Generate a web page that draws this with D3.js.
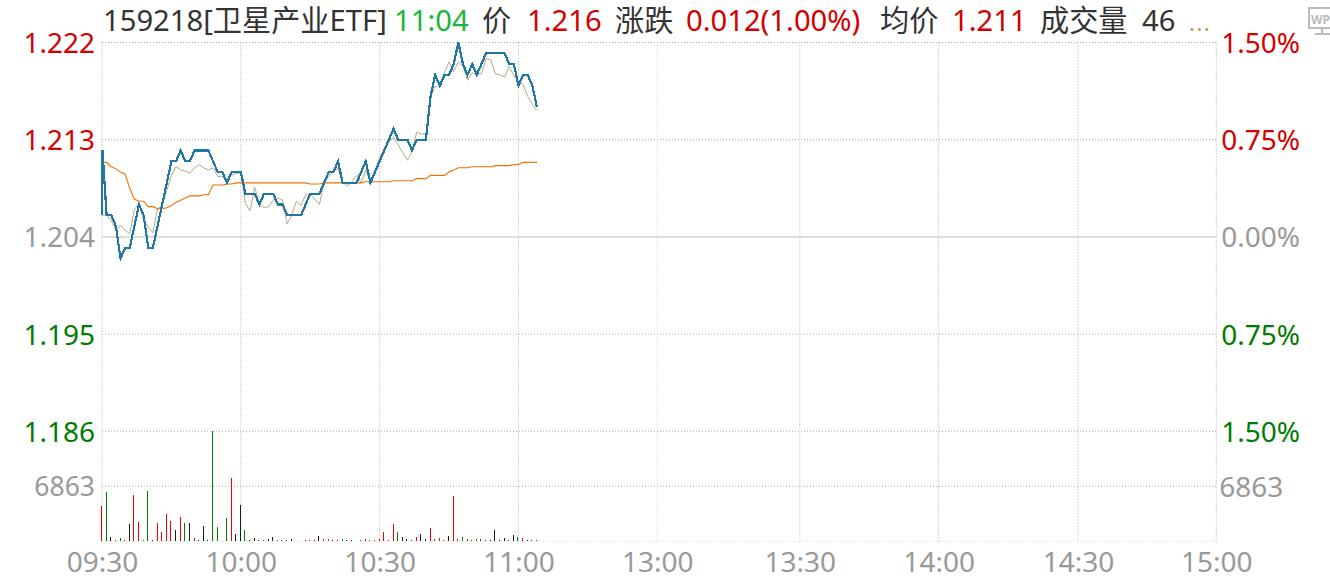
<!DOCTYPE html>
<html><head><meta charset="utf-8">
<script src="https://cdn.jsdelivr.net/npm/d3@7/dist/d3.min.js"></script>
<style>
html,body{margin:0;padding:0;background:#fff;overflow:hidden}
svg{display:block}
text{font-family:"Noto Sans","Noto Sans CJK SC",sans-serif}
</style></head><body>
<svg id="c" width="1330" height="582"></svg>
<script>
const preClose = 1.204;
const openPrice = 1.206;
const priceTicks = [1.222, 1.213, 1.204, 1.195, 1.186];
const pctLabels = ["1.50%", "0.75%", "0.00%", "0.75%", "1.50%"];
const volumeTick = 6863;
const volumeMax = 13726;
const timeLabels = ["09:30","10:00","10:30","11:00","13:00","13:30","14:00","14:30","15:00"];
const timeSlots = [0, 30, 60, 90, 120, 150.8, 180.8, 210.9, 240.8];
const price = [
1.212,1.206,1.206,1.205,1.202,1.203,1.203,1.205,1.207,1.206,
1.203,1.203,1.205,1.207,1.209,1.211,1.211,1.212,1.211,1.211,
1.212,1.212,1.212,1.212,1.211,1.210,1.210,1.209,1.210,1.210,
1.210,1.208,1.208,1.208,1.207,1.208,1.208,1.208,1.207,1.207,
1.206,1.206,1.206,1.206,1.207,1.208,1.208,1.208,1.209,1.210,
1.210,1.211,1.209,1.209,1.209,1.209,1.210,1.211,1.209,1.210,
1.211,1.212,1.213,1.214,1.213,1.213,1.213,1.212,1.213,1.213,
1.213,1.217,1.219,1.218,1.219,1.219,1.220,1.222,1.220,1.219,
1.220,1.219,1.220,1.221,1.221,1.221,1.221,1.221,1.220,1.220,
1.218,1.219,1.219,1.218,1.216];
const tracker = [
1.2060,1.2060,1.2055,1.2046,1.2051,1.2046,1.2043,1.2065,1.2072,1.2055,
1.2049,1.2044,1.2066,1.2069,1.2083,1.2097,1.2105,1.2102,1.2101,1.2099,
1.2104,1.2107,1.2104,1.2102,1.2104,1.2096,1.2096,1.2094,1.2097,1.2099,
1.2099,1.2071,1.2064,1.2086,1.2071,1.2067,1.2068,1.2074,1.2076,1.2074,
1.2052,1.2060,1.2073,1.2069,1.2079,1.2079,1.2075,1.2070,1.2091,1.2096,
1.2101,1.2103,1.2091,1.2087,1.2091,1.2097,1.2090,1.2102,1.2091,1.2102,
1.2113,1.2122,1.2128,1.2132,1.2125,1.2118,1.2111,1.2119,1.2137,1.2135,
1.2136,1.2170,1.2179,1.2180,1.2192,1.2202,1.2193,1.2202,1.2198,1.2185,
1.2192,1.2191,1.2191,1.2205,1.2204,1.2191,1.2190,1.2188,1.2198,1.2189,
1.2184,1.2181,1.2170,1.2163,1.2157];
const average = [
1.2109,1.2109,1.2105,1.2103,1.2100,1.2098,1.2085,1.2075,1.2073,1.2073,
1.2068,1.2068,1.2066,1.2066,1.2067,1.2069,1.2072,1.2074,1.2076,1.2078,
1.2078,1.2078,1.2079,1.2079,1.2088,1.2088,1.2088,1.2089,1.2089,1.2090,
1.2090,1.2090,1.2090,1.2090,1.2090,1.2090,1.2090,1.2090,1.2090,1.2090,
1.2090,1.2090,1.2090,1.2090,1.2090,1.2089,1.2089,1.2089,1.2090,1.2090,
1.2090,1.2090,1.2090,1.2090,1.2090,1.2090,1.2090,1.2091,1.2091,1.2091,
1.2091,1.2091,1.2091,1.2092,1.2092,1.2092,1.2092,1.2092,1.2094,1.2094,
1.2094,1.2097,1.2097,1.2097,1.2097,1.2100,1.2102,1.2104,1.2104,1.2104,
1.2105,1.2105,1.2105,1.2105,1.2105,1.2106,1.2106,1.2106,1.2106,1.2107,
1.2107,1.2109,1.2109,1.2109,1.2109];
const volume = [
4380,6130,500,125,375,125,2127,5755,2377,125,
6255,125,2252,1126,3378,2502,1376,3002,2252,2252,
375,125,1877,125,13726,1751,40,2877,7881,876,
4545,1376,125,375,125,125,250,500,125,125,
125,250,40,40,125,125,125,625,250,250,
125,125,250,125,125,40,125,250,125,125,
250,1126,125,2127,1126,500,250,125,500,876,
250,1626,250,375,125,625,5630,250,500,250,
125,250,250,125,125,1376,125,375,125,750,
500,375,125,125,125];
const barDir = [
1,-1,0,-1,-1,1,0,1,1,-1,
-1,0,1,1,1,1,0,1,-1,0,
1,0,0,0,-1,-1,0,-1,1,0,
0,-1,0,0,-1,1,0,0,-1,0,
-1,0,0,0,1,1,0,0,1,1,
0,1,-1,0,0,0,1,1,-1,1,
1,1,1,1,-1,0,0,-1,1,0,
0,1,1,-1,1,0,1,1,-1,-1,
1,-1,1,1,0,0,0,0,-1,0,
-1,1,0,-1,-1];
const header = [
  ["159218[卫星产业ETF]", 103, "#333"],
  ["11:04", 394, "#1cb53c"],
  ["价", 482, "#333"],
  ["1.216", 527, "#d40000"],
  ["涨跌", 615, "#333"],
  ["0.012(1.00%)", 686, "#d40000"],
  ["均价", 880, "#333"],
  ["1.211", 952, "#d40000"],
  ["成交量", 1040, "#333"],
  ["46", 1142, "#333"]
];

const RED = "#d40000", GREEN = "#007c00", GRAY = "#999";
const svg = d3.select("#c");
const L = 102, R = 1216.3;
const x = d3.scaleLinear().domain([0, 240.8]).range([L, R]);
const yP = d3.scaleLinear().domain([1.186, 1.222]).range([431.3, 42.5]);
const yV = d3.scaleLinear().domain([0, volumeMax]).range([541.3, 431.3]);
const priceColor = v => v > preClose ? RED : v < preClose ? GREEN : GRAY;
const FS = 28;

const grid = svg.append("g");
const dots = "1 2";
priceTicks.forEach(v => {
  if (v === preClose) return;
  grid.append("line").attr("x1", L).attr("x2", R).attr("y1", yP(v)).attr("y2", yP(v))
    .attr("stroke", "#aaa").attr("stroke-dasharray", dots);
});
grid.append("line").attr("x1", L).attr("x2", R).attr("y1", yV(volumeTick)).attr("y2", yV(volumeTick))
  .attr("stroke", "#aaa").attr("stroke-dasharray", dots);
grid.append("line").attr("x1", L).attr("x2", R).attr("y1", yV(0)).attr("y2", yV(0))
  .attr("stroke", "#ddd").attr("stroke-dasharray", dots);
timeSlots.forEach((s, i) => {
  grid.append("line").attr("x1", x(s)).attr("x2", x(s)).attr("y1", yP(1.222)).attr("y2", yV(0))
    .attr("stroke", i === 4 ? "#ddd" : "#aaa").attr("stroke-width", i === 4 ? 1.5 : 1)
    .attr("stroke-dasharray", dots);
});
grid.append("line").attr("x1", L).attr("x2", R).attr("y1", yP(preClose)).attr("y2", yP(preClose))
  .attr("stroke", "#dcdcdc").attr("stroke-width", 2);

const gl = svg.append("g").attr("transform", `translate(${L},0)`)
  .call(d3.axisLeft(yP).tickValues(priceTicks).tickSize(0).tickPadding(7).tickFormat(d3.format(".3f")));
gl.selectAll("text").attr("font-size", FS).attr("dy", "0.36em").attr("fill", d => priceColor(d));
const gr = svg.append("g").attr("transform", `translate(${R},0)`)
  .call(d3.axisRight(yP).tickValues(priceTicks).tickSize(0).tickPadding(5).tickFormat((d, i) => pctLabels[i]));
gr.selectAll("text").attr("font-size", FS).attr("dy", "0.36em").attr("fill", d => priceColor(d));
const gvl = svg.append("g").attr("transform", `translate(${L},0)`)
  .call(d3.axisLeft(yV).tickValues([volumeTick]).tickSize(0).tickPadding(7).tickFormat(d3.format("d")));
gvl.selectAll("text").attr("font-size", 26.5).attr("dy", "0.36em").attr("fill", GRAY);
const gvr = svg.append("g").attr("transform", `translate(${R},0)`)
  .call(d3.axisRight(yV).tickValues([volumeTick]).tickSize(0).tickPadding(3).tickFormat(d3.format("d")));
gvr.selectAll("text").attr("font-size", FS).attr("dy", "0.36em").attr("fill", GRAY);
const gx = svg.append("g").attr("transform", `translate(0,${yV(0)})`)
  .call(d3.axisBottom(x).tickValues(timeSlots).tickSize(0).tickPadding(10.8).tickFormat((d, i) => timeLabels[i]));
gx.selectAll("text").attr("font-size", FS).attr("fill", GRAY);
svg.selectAll(".domain").remove();

const dirColor = d => d > 0 ? "#f00000" : d < 0 ? "#008000" : "#1a1a1a";
svg.append("g").attr("shape-rendering", "crispEdges").selectAll("rect").data(volume).join("rect")
  .attr("x", (d, i) => Math.floor(x(i) - 0.5)).attr("width", 1)
  .attr("y", d => yV(d)).attr("height", d => yV(0) - yV(d))
  .attr("fill", (d, i) => dirColor(barDir[i]));

const lineOf = d3.line().x((d, i) => x(i)).y(d => yP(d));
svg.append("path").attr("d", lineOf(tracker)).attr("fill", "none").attr("stroke", "#b8a888").attr("stroke-width", 1);
svg.append("path").attr("d", lineOf(average)).attr("fill", "none").attr("stroke", "#f07000").attr("stroke-width", 1.1);
const priceLine = d3.line().x(d => x(d[0])).y(d => yP(d[1]));
svg.append("path")
  .attr("d", priceLine([[0, openPrice], [0.1, price[0]]].concat(price.slice(1).map((v, i) => [i + 1, v]))))
  .attr("fill", "none").attr("stroke", "#1f78a4").attr("stroke-width", 2.2).attr("shape-rendering", "crispEdges");

const h = svg.append("g");
h.selectAll("text").data(header).join("text")
  .attr("x", d => d[1]).attr("y", 31).attr("font-size", 29.2).attr("fill", d => d[2]).text(d => d[0]);
h.append("text").attr("x", 1189).attr("y", 31).attr("font-size", 22).attr("letter-spacing", 1.5)
  .attr("fill", "#b8a070").text("...");

const ic = svg.append("g");
ic.append("rect").attr("x", 1309).attr("y", 8).attr("width", 30).attr("height", 20)
  .attr("fill", "none").attr("stroke", "#bbb").attr("stroke-width", 2);
ic.append("text").attr("x", 1311).attr("y", 24).attr("font-size", 12).attr("font-weight", 700)
  .attr("fill", "#bbb").text("WP");
ic.append("line").attr("x1", 1322).attr("x2", 1322).attr("y1", 28).attr("y2", 33).attr("stroke", "#bbb").attr("stroke-width", 2);
ic.append("line").attr("x1", 1315).attr("x2", 1330).attr("y1", 34).attr("y2", 34).attr("stroke", "#bbb").attr("stroke-width", 2);
</script>
</body></html>
